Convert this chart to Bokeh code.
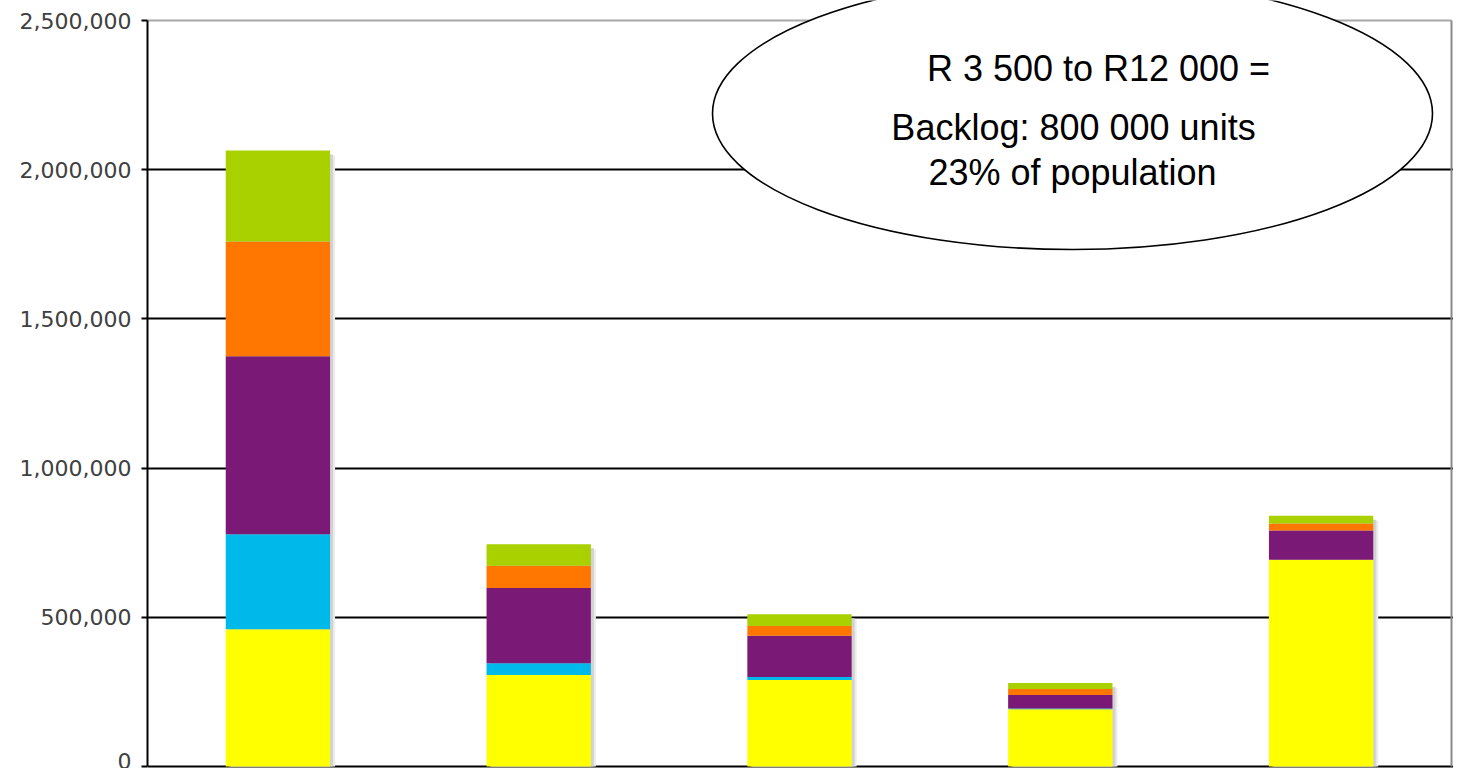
import numpy as np
from bokeh.plotting import figure
from bokeh.models import ColumnDataSource, Range1d, FixedTicker, NumeralTickFormatter
from bokeh.core.properties import value
from bokeh.embed import file_html
from bokeh.resources import INLINE

# ---------------- data ----------------
categories = ["Group 1", "Group 2", "Group 3", "Group 4", "Group 5"]
series = ["yellow", "blue", "purple", "orange", "green"]
yellow = [460000, 307000, 290000, 192000, 693000]
blue = [318000, 39000, 10000, 2000, 0]
purple = [597000, 252000, 138000, 46000, 98000]
orange = [384000, 75000, 33000, 20000, 23000]
green = [305000, 72000, 39000, 20000, 26000]
colors = ["#FFFF00", "#00B9EB", "#7B1A76", "#FF7700", "#A9D100"]
y_ticks = [0, 500000, 1000000, 1500000, 2000000, 2500000]
note_lines = ["R 3 500 to R12 000 =", "Backlog: 800 000 units", "23% of population"]

# ---------------- layout helpers ----------------
FIG_W, FIG_H = 1453, 768
LEFT_BORDER = 147
FRAME_W = FIG_W - LEFT_BORDER
N = len(categories)
X_PX = (FRAME_W - 2) / N          # px per x unit
X_END = FRAME_W / X_PX
Y_TOP = y_ticks[-1]
PX_ZERO = 766                     # picture y of zero
PX_TOP = 20                       # picture y of top tick
Y_PX = (PX_ZERO - PX_TOP) / Y_TOP  # px per y unit
Y_START = -(FIG_H - PX_ZERO) / Y_PX
Y_END = Y_TOP + PX_TOP / Y_PX


def px_x(pic_x):
    return (pic_x - LEFT_BORDER) / X_PX


def px_y(pic_y):
    return (PX_ZERO - pic_y) / Y_PX


x = np.arange(N) + 0.5
data = dict(x=x, yellow=yellow, blue=blue, purple=purple, orange=orange, green=green)
source = ColumnDataSource(data)
totals = np.sum([yellow, blue, purple, orange, green], axis=0)

p = figure(width=FIG_W, height=FIG_H, output_backend="svg", toolbar_location=None,
           x_range=Range1d(0, X_END), y_range=Range1d(Y_START, Y_END),
           x_axis_location=None, title=None,
           min_border_left=LEFT_BORDER, min_border_right=0,
           min_border_top=0, min_border_bottom=0)
p.outline_line_color = None
p.background_fill_color = "white"
p.border_fill_color = "white"

# grid
p.xgrid.visible = False
p.ygrid.ticker = FixedTicker(ticks=y_ticks[:-1])
p.ygrid.grid_line_color = "black"
p.ygrid.grid_line_width = 2

# y axis
yax = p.yaxis[0]
yax.ticker = FixedTicker(ticks=y_ticks)
yax.formatter = NumeralTickFormatter(format="0,0")
yax.bounds = (0, Y_TOP)
yax.axis_line_color = "black"
yax.axis_line_width = 2
yax.major_tick_line_color = "black"
yax.major_tick_line_width = 2
yax.major_tick_out = 6
yax.major_tick_in = 0
yax.minor_tick_line_color = None
yax.major_label_standoff = 10
yax.major_label_text_font = "DejaVu Sans"
yax.major_label_text_font_size = "22px"
yax.major_label_text_color = "#404040"

# frame borders (top and right)
p.segment(x0=[0], y0=[Y_TOP], x1=[N], y1=[Y_TOP], line_color="#a8a8a8", line_width=2)
p.segment(x0=[N], y0=[0], x1=[N], y1=[Y_TOP], line_color="#8a8a8a", line_width=2)

# bar shadows
sh1 = 5 / X_PX
sh2 = 3 / X_PX
p.vbar(x=x + sh1, top=totals - 5 / Y_PX, bottom=0, width=0.4,
       fill_color="#ececec", line_color=None)
p.vbar(x=x + sh2, top=totals - 4 / Y_PX, bottom=0, width=0.4,
       fill_color="#d2d2d2", line_color=None)

# stacked bars
p.vbar_stack(series, x="x", width=0.4, source=source,
             fill_color=colors, line_color=None)

# callout ellipse and text
p.ellipse(x=[px_x(1072)], y=[px_y(113)], width=720, height=272,
          width_units="screen", height_units="screen",
          fill_color="white", line_color="black", line_width=1.6)
p.text(x=[px_x(1098), px_x(1073), px_x(1072)],
       y=[px_y(67.5), px_y(127), px_y(172)],
       text=note_lines, text_font=value("Liberation Sans"),
       text_font_size="36px", text_align="center",
       text_baseline="alphabetic", text_color="black")

open("out.html", "w").write(file_html(p, INLINE))
